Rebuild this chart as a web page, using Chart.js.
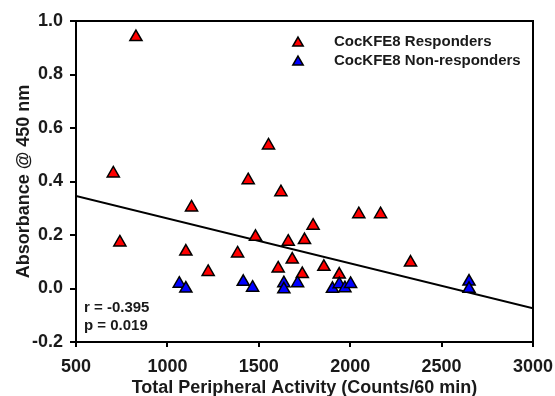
<!DOCTYPE html>
<html><head><meta charset="utf-8">
<script src="https://cdn.jsdelivr.net/npm/chart.js@4/dist/chart.umd.min.js"></script>
<style>html,body{margin:0;padding:0;background:#fff;}canvas{display:block;}</style>
</head><body>
<canvas id="c" width="555" height="396"></canvas>
<script>
const responderX = [828, 704, 1553, 1442, 1621, 740, 1132, 1101, 1223, 1384, 1482, 1606, 1661, 1683, 1750, 1738, 2047, 2166, 1797, 1856, 1940, 2330];
const responderY = [0.94, 0.43, 0.535, 0.405, 0.36, 0.172, 0.303, 0.138, 0.062, 0.131, 0.193, 0.075, 0.175, 0.108, 0.181, 0.054, 0.278, 0.278, 0.235, 0.081, 0.052, 0.097];
const nonResponderX = [1065, 1101, 1415, 1466, 1637, 1637, 1712, 1903, 1940, 1971, 2002, 2650, 2650];
const nonResponderY = [0.018, 0.0, 0.025, 0.003, 0.02, -0.003, 0.02, -0.001, 0.016, 0.001, 0.017, 0.026, -0.001];
const fitX = [500, 3000];
const fitY = [0.346, -0.074];
const xRange = [500, 3000, 500];
const yRange = [-0.2, 1.0, 0.2];
const seriesLabels = ['CocKFE8 Responders', 'CocKFE8 Non-responders'];
const statsText = ['r = -0.395', 'p = 0.019'];
const xTitle = 'Total Peripheral Activity (Counts/60 min)';
const yTitle = 'Absorbance @ 450 nm';

const toPts = (xs, ys) => xs.map((x, i) => ({x: x, y: ys[i]}));
const TXT = '#1a1a1a';
const FONT = '"Liberation Sans", Arial, sans-serif';

function tri(ctx, x, y, r, fill) {
  ctx.save();
  ctx.beginPath();
  for (let k = 0; k < 3; k++) {
    const a = k * 2 * Math.PI / 3;
    const px = x + Math.sin(a) * r, py = y - Math.cos(a) * r;
    if (k === 0) ctx.moveTo(px, py); else ctx.lineTo(px, py);
  }
  ctx.closePath();
  ctx.fillStyle = fill; ctx.fill();
  ctx.lineWidth = 1.5; ctx.strokeStyle = '#000'; ctx.stroke();
  ctx.restore();
}

const overlay = {
  id: 'overlay',
  afterDraw(chart) {
    const {ctx, chartArea: a} = chart;
    ctx.save();
    ctx.strokeStyle = '#000'; ctx.lineWidth = 2;
    ctx.beginPath();
    ctx.moveTo(a.left, a.top); ctx.lineTo(a.right, a.top); ctx.lineTo(a.right, a.bottom);
    ctx.stroke();
    ctx.font = 'bold 15px ' + FONT;
    ctx.fillStyle = TXT; ctx.textBaseline = 'middle'; ctx.textAlign = 'left';
    const colors = ['#ff0000', '#0000ff'];
    seriesLabels.forEach((lab, i) => {
      const y = 42 + i * 19;
      tri(ctx, 298, y + 1, 6, colors[i]);
      ctx.fillStyle = TXT;
      ctx.fillText(lab, 334, y);
    });
    statsText.forEach((t, i) => ctx.fillText(t, 84, 308 + i * 18));
    ctx.restore();
  }
};

new Chart(document.getElementById('c'), {
  type: 'scatter',
  data: {
    datasets: [
      {label: seriesLabels[1], data: toPts(nonResponderX, nonResponderY), order: 0,
       pointStyle: 'triangle', pointRadius: 7, pointHoverRadius: 7, pointBackgroundColor: '#0000ff', pointBorderColor: '#000', pointBorderWidth: 1.5},
      {label: seriesLabels[0], data: toPts(responderX, responderY), order: 1,
       pointStyle: 'triangle', pointRadius: 7, pointHoverRadius: 7, pointBackgroundColor: '#ff0000', pointBorderColor: '#000', pointBorderWidth: 1.5},
      {label: 'fit', type: 'line', data: toPts(fitX, fitY), order: 2, showLine: true, pointRadius: 0,
       borderColor: '#000', borderWidth: 2, fill: false}
    ]
  },
  options: {
    responsive: false, animation: false,
    layout: {padding: {left: 0, right: 22, top: 21, bottom: 0}},
    plugins: {legend: {display: false}, tooltip: {enabled: false}},
    scales: {
      x: {
        type: 'linear', min: xRange[0], max: xRange[1],
        ticks: {stepSize: xRange[2], color: TXT, font: {family: FONT, size: 18, weight: 'bold'}, padding: 9, maxRotation: 0, callback: v => String(v)},
        grid: {drawOnChartArea: false, drawTicks: true, tickLength: 5, color: '#000', lineWidth: 2},
        border: {color: '#000', width: 2},
        title: {display: true, text: xTitle, color: TXT, font: {family: FONT, size: 18, weight: 'bold'}, padding: {top: 0, bottom: -3}},
        afterFit(s) { s.height = 54; s.paddingLeft = 0; s.paddingRight = 0; }
      },
      y: {
        type: 'linear', min: yRange[0], max: yRange[1],
        ticks: {stepSize: yRange[2], color: TXT, font: {family: FONT, size: 18, weight: 'bold'}, padding: 7, callback: v => (Math.abs(v) < 1e-9 ? 0 : Number(v)).toFixed(1)},
        grid: {drawOnChartArea: false, drawTicks: true, tickLength: 6, color: '#000', lineWidth: 2},
        border: {color: '#000', width: 2},
        title: {display: true, text: yTitle, color: TXT, font: {family: FONT, size: 18, weight: 'bold'}, padding: {top: 13, bottom: 0}},
        afterFit(s) { s.width = 76; s.paddingTop = 0; s.paddingBottom = 0; }
      }
    }
  },
  plugins: [overlay]
});
</script>
</body></html>
